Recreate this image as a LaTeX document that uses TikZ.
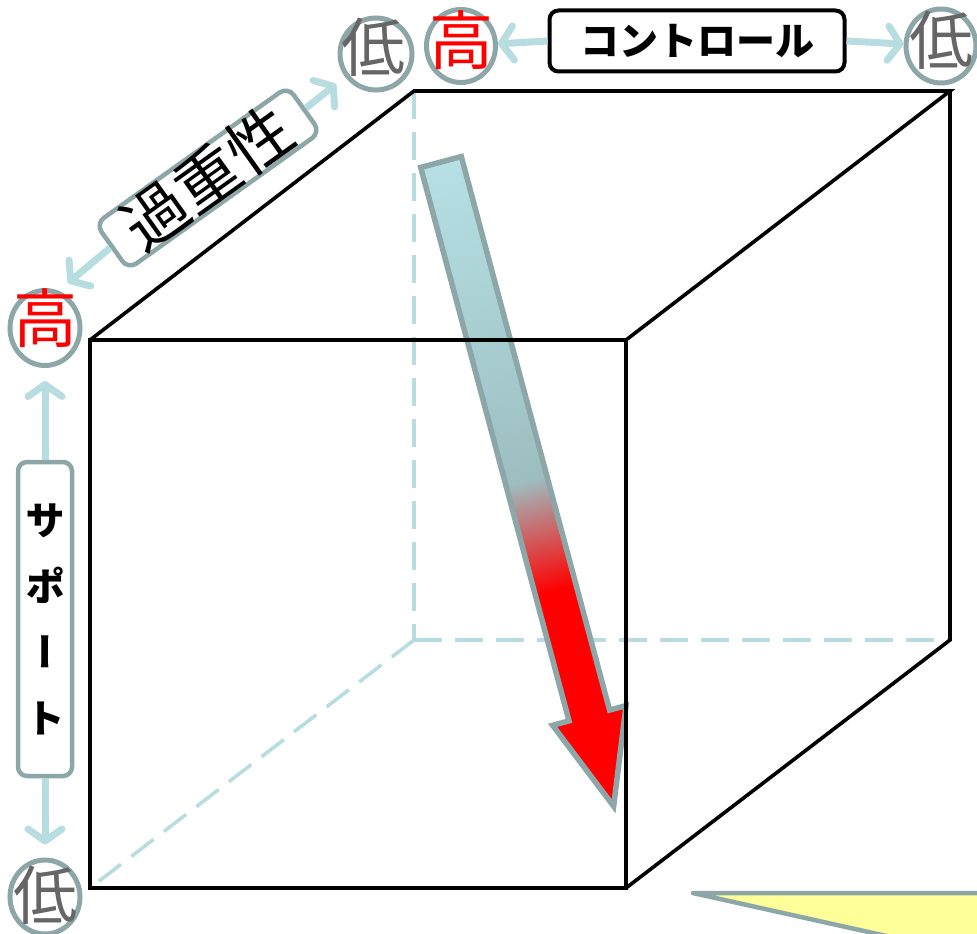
\documentclass[tikz,border=0pt]{standalone}
\usepackage{fontspec}
\newfontfamily\jp{Noto Sans CJK JP}
\newfontfamily\jpv[RawFeature={+vert}]{Noto Sans CJK JP}
\usetikzlibrary{arrows.meta,shapes.geometric}
\definecolor{lblue}{HTML}{B7DDE0}
\definecolor{tealgray}{HTML}{8DA6A8}
\definecolor{dgray}{HTML}{666666}
\definecolor{ylw}{HTML}{FFFF99}
\definecolor{abtop}{HTML}{B6E0E4}
\definecolor{abmid}{HTML}{9DBEC1}
\pgfdeclareverticalshading{bigarrowshade}{100bp}{color(0bp)=(red); color(41.8bp)=(red); color(50.3bp)=(abmid); color(75bp)=(abtop); color(100bp)=(abtop)}
\begin{document}
\begin{tikzpicture}[x=1pt,y=-1pt,
  cube/.style={draw=black,line width=3.6pt,line join=miter,line cap=round},
  hidden/.style={draw=lblue,line width=3.6pt,dash pattern=on 28pt off 13pt},
  lvl/.style={ellipse,draw=tealgray,line width=5pt,minimum width=70pt,minimum height=74pt,inner sep=0pt},
  lowlbl/.style={font=\jp\fontsize{64}{64}\selectfont,text=dgray,inner sep=0pt,text height=48pt,text depth=0pt,yshift=6pt},
  highlbl/.style={lowlbl,text=red},
  lbarrow/.style={draw=lblue,line width=7pt,-{Straight Barb[length=12pt,width=34pt,round]}},
  ctrlbox/.style={draw=black,line width=4pt,rounded corners=9pt,fill=white,minimum width=295pt,minimum height=61pt,inner sep=0pt,font=\jp\bfseries\fontsize{39}{39}\selectfont,text height=29pt,text depth=0pt},
  kjbox/.style={draw=tealgray,line width=4.5pt,rounded corners=10pt,fill=white,minimum width=236pt,minimum height=56pt,inner sep=0pt,font=\jp\fontsize{64}{64}\selectfont,text height=48pt,text depth=0pt},
  supbox/.style={draw=tealgray,line width=4.5pt,rounded corners=9pt,fill=white,minimum width=54pt,minimum height=314pt,inner sep=0pt,align=center,font=\jpv\bfseries\fontsize{40}{66}\selectfont}
]
\useasboundingbox (0,0) rectangle (977,934);
\clip (0,0) rectangle (977,934);

% cube corners
\coordinate (FTL) at (90,340);
\coordinate (FTR) at (626,340);
\coordinate (FBR) at (626,888);
\coordinate (FBL) at (90,888);
\coordinate (BTL) at (414,91);
\coordinate (BTR) at (950,91);
\coordinate (BBR) at (950,640);
\coordinate (BBL) at (414,640);

% hidden edges
\draw[hidden] (BTL) -- (BBL);
\draw[hidden] (BBL) -- (BBR);
\draw[hidden] (BBL) -- (FBL);

% big arrow
\coordinate (S) at (441,162);
\begin{scope}[transform canvas={rotate around={15:(S)}}]
\shade[shading=bigarrowshade,draw=tealgray,line width=5.5pt,line join=miter]
  ([shift={(-21,0)}]S) -- ([shift={(21,0)}]S) -- ([shift={(21,573)}]S)
  -- ([shift={(38,573)}]S) -- ([shift={(0,667)}]S) -- ([shift={(-38,573)}]S)
  -- ([shift={(-21,573)}]S) -- cycle;
\end{scope}

% solid edges
\draw[cube] (FTL) -- (FTR) -- (FBR) -- (FBL) -- cycle;
\draw[cube] (FTL) -- (BTL) -- (BTR) -- (FTR);
\draw[cube] (BTR) -- (BBR) -- (FBR);

% level circles
\node[lvl,minimum width=72pt,minimum height=72pt,label={[lowlbl,xshift=-3pt]center:低}] (lowtop) at (376,54) {};
\node[lvl,minimum width=69pt,minimum height=73pt,label={[highlbl]center:高}] (hightop) at (461,46) {};
\node[lvl,label={[lowlbl]center:低}] (lowright) at (941,46) {};
\node[lvl,minimum height=75pt,label={[highlbl,yshift=4pt]center:高}] (highleft) at (45,328) {};
\node[lvl,label={[lowlbl,yshift=-4pt]center:低}] (lowbot) at (45,897) {};

% control
\node[ctrlbox] (ctrl) at (697,41) {コントロール};
\draw[lbarrow] (ctrl.west) -- (hightop);
\draw[lbarrow] (ctrl.east) -- (lowright);

% kajusei
\node[kjbox,rotate=35.5] (kj) at (208,178) {過重性};
\coordinate (kjtip1) at (336,84);
\coordinate (kjtip2) at (68,283);
\draw[lbarrow] (kj.east) -- (kjtip1);
\draw[lbarrow] (kj.west) -- (kjtip2);

% support
\node[supbox] (sup) at (45,619) {サ\\ポ\\ー\\ト};
\draw[lbarrow,shorten >=13pt] (sup.north) -- (highleft);
\draw[lbarrow,shorten >=13pt] (sup.south) -- (lowbot);

% yellow shape
\draw[draw=tealgray,line width=4.5pt,fill=ylw,line join=round] (693,893) -- (1017,893) -- (1017,965) -- cycle;
\end{tikzpicture}
\end{document}
